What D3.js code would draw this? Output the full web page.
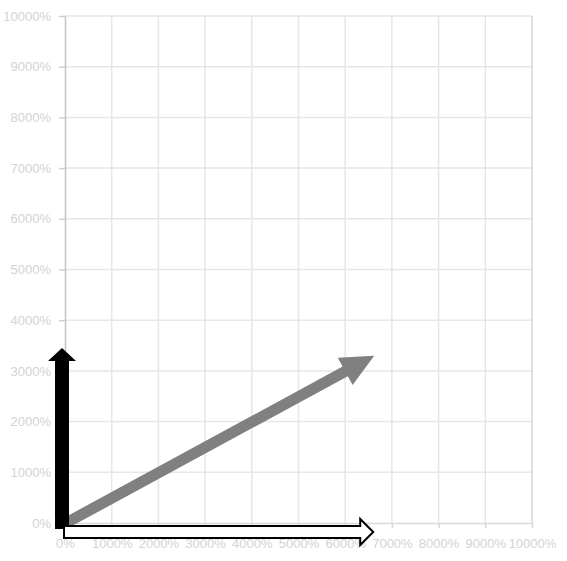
<!DOCTYPE html>
<html>
<head>
<meta charset="utf-8">
<script src="https://cdn.jsdelivr.net/npm/d3@7"></script>
<style>
  body { margin: 0; background: #fff; }
  text { font-family: "Liberation Sans", Arial, sans-serif; }
</style>
</head>
<body>
<svg id="chart" width="567" height="561"></svg>
<script>
// axis ticks (percent)
const xTicks = [0, 1000, 2000, 3000, 4000, 5000, 6000, 7000, 8000, 9000, 10000];
const yTicks = [0, 1000, 2000, 3000, 4000, 5000, 6000, 7000, 8000, 9000, 10000];

// vectors, drawn from the origin
const vectorNames = ["a+b", "a", "b"];
const vectorX = [6600, 0, 6600];
const vectorY = [3300, 3450, 0];

const margin = { top: 16, right: 35, bottom: 38, left: 65 };
const width = 567 - margin.left - margin.right;
const height = 561 - margin.top - margin.bottom;

const svg = d3.select("#chart");
const g = svg.append("g").attr("transform", `translate(${margin.left},${margin.top})`);

const x = d3.scaleLinear().domain([0, 10000]).range([0, width]);
const y = d3.scaleLinear().domain([0, 10000]).range([height, 0]);

// grid
g.append("g")
  .selectAll("line.h")
  .data(yTicks.slice(1))
  .enter()
  .append("line")
  .attr("x1", 0)
  .attr("x2", width)
  .attr("y1", (d) => y(d))
  .attr("y2", (d) => y(d))
  .attr("stroke", "#e6e6e6")
  .attr("stroke-width", 1.5);

g.append("g")
  .selectAll("line.v")
  .data(xTicks.slice(1))
  .enter()
  .append("line")
  .attr("x1", (d) => x(d))
  .attr("x2", (d) => x(d))
  .attr("y1", 0)
  .attr("y2", height)
  .attr("stroke", (d) => (d === 10000 ? "#d6d6d6" : "#e6e6e6"))
  .attr("stroke-width", 1.5);

// x axis
const xAxis = g.append("g")
  .attr("transform", `translate(0,${height})`)
  .call(d3.axisBottom(x).tickValues(xTicks).tickFormat((d) => d + "%").tickSize(5).tickPadding(11).tickSizeOuter(0));
xAxis.select(".domain").attr("stroke", "#d9d9d9").attr("stroke-width", 1.5);
xAxis.selectAll(".tick line").attr("stroke", "#d9d9d9").attr("stroke-width", 1.5);
xAxis.selectAll("text").attr("fill", "#d3d3d3").style("font-size", "13px");

// y axis
const yAxis = g.append("g")
  .call(d3.axisLeft(y).tickValues(yTicks).tickFormat((d) => d + "%").tickSize(6).tickPadding(8).tickSizeOuter(0));
yAxis.select(".domain").attr("stroke", "#c4c4c4").attr("stroke-width", 1.5);
yAxis.selectAll(".tick line").attr("stroke", "#d0d0d0").attr("stroke-width", 1.5);
yAxis.selectAll("text").attr("fill", "#d3d3d3").style("font-size", "13px");

// arrow outline from (x0,y0) to (x1,y1)
function arrowPath(x0, y0, x1, y1, shaftW, headW, headL, back) {
  const len = Math.hypot(x1 - x0, y1 - y0);
  const ux = (x1 - x0) / len, uy = (y1 - y0) / len;
  const nx = -uy, ny = ux;
  const sx = x0 - ux * back, sy = y0 - uy * back;
  const bx = x1 - ux * headL, by = y1 - uy * headL;
  const pts = [
    [sx + nx * shaftW / 2, sy + ny * shaftW / 2],
    [bx + nx * shaftW / 2, by + ny * shaftW / 2],
    [bx + nx * headW / 2, by + ny * headW / 2],
    [x1, y1],
    [bx - nx * headW / 2, by - ny * headW / 2],
    [bx - nx * shaftW / 2, by - ny * shaftW / 2],
    [sx - nx * shaftW / 2, sy - ny * shaftW / 2],
  ];
  return "M" + pts.map((p) => p.join(",")).join("L") + "Z";
}

const arrowStyle = {
  "a+b": { fill: "#808080", stroke: "none", sw: 0, shaftW: 11, headW: 31, headL: 33, back: 0, dx: 1, dy: 0 },
  a: { fill: "#000", stroke: "none", sw: 0, shaftW: 14, headW: 28, headL: 13, back: 6, dx: -3, dy: 0 },
  b: { fill: "#fff", stroke: "#000", sw: 2, shaftW: 12, headW: 26, headL: 13, back: 1, dx: 0, dy: 9 },
};

const vectors = vectorNames.map((name, i) => ({ name, vx: vectorX[i], vy: vectorY[i] }));

g.append("g")
  .selectAll("path")
  .data(vectors)
  .enter()
  .append("path")
  .attr("d", (d) => {
    const s = arrowStyle[d.name];
    return arrowPath(x(0) + s.dx, y(0) + s.dy, x(d.vx) + s.dx, y(d.vy) + s.dy, s.shaftW, s.headW, s.headL, s.back);
  })
  .attr("fill", (d) => arrowStyle[d.name].fill)
  .attr("stroke", (d) => arrowStyle[d.name].stroke)
  .attr("stroke-width", (d) => arrowStyle[d.name].sw)
  .attr("stroke-linejoin", "miter");
</script>
</body>
</html>
